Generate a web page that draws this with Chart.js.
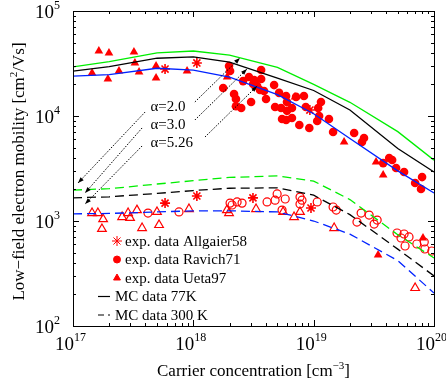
<!DOCTYPE html>
<html>
<head>
<meta charset="utf-8">
<script src="https://cdn.jsdelivr.net/npm/chart.js@4.4.0/dist/chart.umd.min.js"></script>
<style>
html, body { margin: 0; padding: 0; background: #fff; }
</style>
</head>
<body>
<canvas id="grafico" width="446" height="387"></canvas>
<script>
// =========================
// Curvas MC (77 K sólidas, 300 K a trazos)
// =========================
const concMC = [1e17, 2e17, 5e17, 1e18, 2e18, 5e18, 1e19, 2e19, 5e19, 1e20];
const mc77_a20   = [29300, 33000, 40000, 41600, 38000, 29000, 20000, 13500, 7100, 3800];
const mc77_a30   = [26800, 29500, 35500, 36500, 32600, 23000, 17500, 11400, 4900, 2930];
const mc77_a526  = [24000, 24800, 28500, 27400, 23500, 16000, 10500, 6100, 3000, 1850];
const mc300_a20  = [1970, 2030, 2250, 2420, 2600, 2690, 2400, 1600, 740, 445];
const mc300_a30  = [1660, 1700, 1830, 1950, 2050, 2070, 1760, 1150, 540, 300];
const mc300_a526 = [1170, 1180, 1220, 1250, 1250, 1220, 1000, 750, 420, 206];

// =========================
// Datos experimentales
// =========================
const allgaier77N  = [5.82e17, 1.07e18, 9.3e18];
const allgaier77Mu = [28000, 32000, 11400];
const allgaier300N  = [5.82e17, 1.07e18, 3.13e18, 9.5e18];
const allgaier300Mu = [1480, 1730, 1660, 1330];

const ravich77N = [1.98e18, 2.02e18, 1.77e18, 2.18e18, 2.26e18, 2.26e18, 2.5e18, 3.02e18, 2.59e18, 2.9e18,
  3.2e18, 3.66e18, 3.14e18, 3.39e18, 3.66e18, 3.58e18, 3.87e18, 4.02e18, 4.69e18, 5.16e18,
  4.78e18, 5.9e18, 6.0e18, 5.36e18, 6.0e18, 6.6e18, 5.46e18, 5.9e18, 6.6e18, 7.14e18,
  8.3e18, 7.6e18, 8.6e18, 9.2e18, 1.09e19, 1.15e19, 1.11e19, 1.07e19, 1.34e19, 1.45e19,
  2.17e19, 2.62e19, 2.52e19, 4.24e19, 4.49e19, 3.78e19, 4.84e19, 5.64e19, 7.96e19, 6.97e19, 7.8e19];
const ravich77Mu = [29900, 26800, 18500, 16200, 14500, 12400, 11900, 13600, 21500, 23500,
  22000, 22500, 20200, 19300, 27400, 17700, 17300, 14500, 19700, 16600,
  12200, 15500, 13600, 11900, 11200, 11900, 9360, 9160, 9570, 15200,
  15500, 8200, 12200, 7690, 11900, 13600, 10000, 8960, 9360, 7050,
  6890, 6170, 5650, 3980, 3810, 3560, 3200, 2930, 2620, 2300, 2020];

const ravich300N = [4.2e17, 7.6e17, 2.02e18, 2.1e18, 2.31e18, 2.54e18, 4.1e18, 4.78e18, 4.97e18, 5.8e18,
  7.7e18, 8.0e18, 7.7e18, 5.46e18, 1.07e19, 1.45e19, 1.54e19, 2.48e19, 2.89e19, 2.29e19,
  3.37e19, 3.18e19, 4.93e19, 5.32e19, 5.64e19, 6.2e19, 5.75e19, 7.2e19, 8.3e19, 8.4e19, 9.6e19];
const ravich300Mu = [1190, 1220, 1480, 1420, 1520, 1480, 1520, 1580, 1810, 1620,
  1690, 1580, 1450, 1270, 1520, 1360, 1270, 1190, 1140, 977,
  1020, 935, 769, 689, 752, 705, 578, 604, 631, 541, 518];

const ueta77N = [1.64e17, 1.99e17, 3.21e17, 3.27e17, 1.44e17, 1.95e17, 2.41e17, 3.54e17, 4.9e17, 4.9e17,
  8.87e17, 1.91e18, 7.0e18, 1.79e19, 3.3e19, 3.78e19, 8.1e19, 3.43e19];
const ueta77Mu = [41600, 39800, 40700, 32000, 25700, 22500, 26800, 26200, 29900, 23000,
  26800, 23500, 15200, 5650, 3650, 2740, 689, 474];

const ueta300N = [1.44e17, 1.61e17, 1.78e17, 1.74e17, 2.56e17, 2.87e17, 2.98e17, 3.4e17, 3.75e17, 5.19e17,
  4.99e17, 9.2e17, 1.9e18, 1.98e18, 3.32e18, 5.57e18, 6.87e18, 7.7e18, 1.48e19, 6.97e19];
const ueta300Mu = [1190, 1190, 1040, 840, 1090, 1190, 1070, 1270, 857, 916,
  1220, 1300, 1270, 1190, 1300, 1220, 1090, 1220, 857, 230];

// Ejes
const exponentesX = [17, 18, 19, 20];
const exponentesY = [2, 3, 4, 5];

// Anotaciones alfa (texto y flechas en coordenadas de datos)
const etiquetasAlfa = ["α=2.0", "α=3.0", "α=5.26"];
const alfaTextoN  = [4.4e17, 4.4e17, 4.4e17];
const alfaTextoMu = [12200, 8200, 5530];
const flechaArribaDe = [[1.03e18, 13600], [1.03e18, 9160], [1.25e18, 6310]];
const flechaArribaA  = [[2.44e18, 35700], [2.79e18, 28000], [3.39e18, 19300]];
const flechaAbajoDe  = [[3.97e17, 10900], [3.75e17, 7690], [3.75e17, 5180]];
const flechaAbajoA   = [[1.1e17, 2300], [1.26e17, 1850], [1.26e17, 1450]];

const ROJO = "#ff0000";
const VERDE = "#00ee00";
const AZUL = "#0022ff";
const FUENTE = '"Liberation Serif", "Times New Roman", serif';

function puntos(xs, ys) {
    return xs.map((x, i) => ({ x: x, y: ys[i] }));
}

function curva(ys, color, trazos) {
    return {
        data: puntos(concMC, ys),
        showLine: true,
        borderColor: color,
        borderWidth: 1.3,
        borderDash: trazos ? [9, 5] : [],
        pointRadius: 0,
        fill: false
    };
}

// =========================
// Texto con superíndices
// =========================
function textoSup(ctx, partes, x, y, alinear, tamBase, tamSup, subida) {
    let ancho = 0;
    partes.forEach(p => {
        ctx.font = (p[1] ? tamSup : tamBase) + "px " + FUENTE;
        ancho += ctx.measureText(p[0]).width;
    });
    let cx = x;
    if (alinear === "center") cx = x - ancho / 2;
    if (alinear === "right") cx = x - ancho;
    ctx.textAlign = "left";
    ctx.textBaseline = "alphabetic";
    partes.forEach(p => {
        ctx.font = (p[1] ? tamSup : tamBase) + "px " + FUENTE;
        ctx.fillText(p[0], cx, p[1] ? y - subida : y);
        cx += ctx.measureText(p[0]).width;
    });
}

function flecha(ctx, x0, y0, x1, y1) {
    ctx.save();
    ctx.setLineDash([1.5, 1.5]);
    ctx.lineWidth = 1;
    ctx.beginPath();
    ctx.moveTo(x0, y0);
    ctx.lineTo(x1, y1);
    ctx.stroke();
    ctx.setLineDash([]);
    const ang = Math.atan2(y1 - y0, x1 - x0);
    const L = 6, W = 2.2;
    ctx.beginPath();
    ctx.moveTo(x1, y1);
    ctx.lineTo(x1 - L * Math.cos(ang) + W * Math.sin(ang), y1 - L * Math.sin(ang) - W * Math.cos(ang));
    ctx.lineTo(x1 - L * Math.cos(ang) - W * Math.sin(ang), y1 - L * Math.sin(ang) + W * Math.cos(ang));
    ctx.closePath();
    ctx.fill();
    ctx.restore();
}

// =========================
// Plugin: marco, marcas, etiquetas, leyenda y anotaciones
// =========================
const pluginEjes = {
    id: "ejes",
    afterDraw(chart) {
        const ctx = chart.ctx;
        const sx = chart.scales.x, sy = chart.scales.y;
        const a = chart.chartArea;
        ctx.save();
        ctx.strokeStyle = "#000";
        ctx.fillStyle = "#000";
        ctx.lineWidth = 1;
        ctx.strokeRect(Math.round(a.left) + 0.5, Math.round(a.top) + 0.5,
            Math.round(a.right - a.left), Math.round(a.bottom - a.top));

        const linea = (x0, y0, x1, y1) => {
            ctx.beginPath(); ctx.moveTo(x0, y0); ctx.lineTo(x1, y1); ctx.stroke();
        };

        // marcas eje x
        exponentesX.forEach(k => {
            for (let m = 1; m <= 9; m++) {
                const v = m * Math.pow(10, k);
                if (v > sx.max * 1.0001) break;
                const px = Math.round(sx.getPixelForValue(v)) + 0.5;
                const largo = m === 1 ? 6 : 3;
                linea(px, a.bottom, px, a.bottom - largo);
                linea(px, a.top, px, a.top + largo);
            }
        });
        // marcas eje y
        exponentesY.forEach(k => {
            for (let m = 1; m <= 9; m++) {
                const v = m * Math.pow(10, k);
                if (v > sy.max * 1.0001) break;
                const py = Math.round(sy.getPixelForValue(v)) + 0.5;
                const largo = m === 1 ? 6 : 3;
                linea(a.left, py, a.left + largo, py);
                linea(a.right, py, a.right - largo, py);
            }
        });

        // etiquetas de marcas
        exponentesX.forEach(k => {
            const px = sx.getPixelForValue(Math.pow(10, k));
            textoSup(ctx, [["10", false], [String(k), true]], px - 18, a.bottom + 24, "left", 19, 12, 9);
        });
        exponentesY.forEach(k => {
            const py = sy.getPixelForValue(Math.pow(10, k));
            textoSup(ctx, [["10", false], [String(k), true]], a.left - 13, py + 7, "right", 19, 12, 9);
        });

        // títulos de ejes
        textoSup(ctx, [["Carrier concentration [cm", false], ["\u22123", true], ["]", false]],
            (a.left + a.right) / 2, a.bottom + 50, "center", 17, 11, 7);
        ctx.save();
        ctx.translate(24, (a.top + a.bottom) / 2 + 3);
        ctx.rotate(-Math.PI / 2);
        textoSup(ctx, [["Low\u2212field electron mobility [cm", false], ["2", true], ["/Vs]", false]],
            0, 0, "center", 17, 11, 7);
        ctx.restore();

        // anotaciones alfa
        ctx.font = "15px " + FUENTE;
        ctx.textBaseline = "middle";
        ctx.textAlign = "left";
        etiquetasAlfa.forEach((t, i) => {
            ctx.fillText(t, sx.getPixelForValue(alfaTextoN[i]), sy.getPixelForValue(alfaTextoMu[i]));
        });
        const pix = p => [sx.getPixelForValue(p[0]), sy.getPixelForValue(p[1])];
        for (let i = 0; i < 3; i++) {
            const d1 = pix(flechaArribaDe[i]), a1 = pix(flechaArribaA[i]);
            flecha(ctx, d1[0], d1[1], a1[0], a1[1]);
            const d2 = pix(flechaAbajoDe[i]), a2 = pix(flechaAbajoA[i]);
            flecha(ctx, d2[0], d2[1], a2[0], a2[1]);
        }

        // leyenda
        const filas = [
            { txt: "exp. data Allgaier58", estilo: "star", r: 5, relleno: true },
            { txt: "exp. data Ravich71", estilo: "circle", r: 3.5, relleno: true },
            { txt: "exp. data Ueta97", estilo: "triangle", r: 4, relleno: true },
            { txt: "MC data 77K", linea: [] },
            { txt: "MC data 300 K", linea: [6, 4] }
        ];
        const y0 = a.bottom - 85, paso = 18.5;
        filas.forEach((f, i) => {
            const y = y0 + i * paso;
            ctx.font = "15px " + FUENTE;
            ctx.textBaseline = "middle";
            ctx.fillStyle = "#000";
            if (f.linea) {
                ctx.save();
                ctx.strokeStyle = "#000";
                ctx.lineWidth = 1.2;
                ctx.setLineDash(f.linea);
                linea(a.left + 25, y, a.left + 37, y);
                ctx.restore();
                ctx.fillText(f.txt, a.left + 42, y + 1);
            } else {
                ctx.save();
                ctx.fillStyle = ROJO;
                ctx.strokeStyle = ROJO;
                Chart.helpers.drawPoint(ctx, { pointStyle: f.estilo, radius: f.r, rotation: 0, borderWidth: f.estilo === "star" ? 1.5 : 1 }, a.left + 44, y);
                ctx.restore();
                ctx.fillText(f.txt, a.left + 52, y + 1);
            }
        });
        ctx.restore();
    }
};

// =========================
// Gráfico
// =========================
const ctx = document.getElementById("grafico").getContext("2d");
new Chart(ctx, {
    type: "scatter",
    data: {
        datasets: [
            curva(mc77_a20, VERDE, false),
            curva(mc77_a30, "#000000", false),
            curva(mc77_a526, AZUL, false),
            curva(mc300_a20, VERDE, true),
            curva(mc300_a30, "#000000", true),
            curva(mc300_a526, AZUL, true),
            {
                data: puntos(allgaier77N, allgaier77Mu).concat(puntos(allgaier300N, allgaier300Mu)),
                pointStyle: "star", pointRadius: 5, borderColor: ROJO, borderWidth: 1.6, backgroundColor: ROJO
            },
            {
                data: puntos(ravich77N, ravich77Mu),
                pointStyle: "circle", pointRadius: 4.3, borderColor: ROJO, borderWidth: 0, backgroundColor: ROJO
            },
            {
                data: puntos(ravich300N, ravich300Mu),
                pointStyle: "circle", pointRadius: 4, borderColor: ROJO, borderWidth: 1.2, backgroundColor: "rgba(255,255,255,0)"
            },
            {
                data: puntos(ueta77N, ueta77Mu),
                pointStyle: "triangle", pointRadius: 5, borderColor: ROJO, borderWidth: 0, backgroundColor: ROJO
            },
            {
                data: puntos(ueta300N, ueta300Mu),
                pointStyle: "triangle", pointRadius: 5, borderColor: ROJO, borderWidth: 1.2, backgroundColor: "rgba(255,255,255,0)"
            }
        ]
    },
    options: {
        responsive: false,
        animation: false,
        devicePixelRatio: 1,
        layout: { padding: { left: 73, top: 11, right: 12, bottom: 61 } },
        plugins: { legend: { display: false }, tooltip: { enabled: false } },
        scales: {
            x: { type: "logarithmic", min: 1e17, max: 1e20, display: false },
            y: { type: "logarithmic", min: 100, max: 1e5, display: false }
        }
    },
    plugins: [pluginEjes]
});
</script>
</body>
</html>
